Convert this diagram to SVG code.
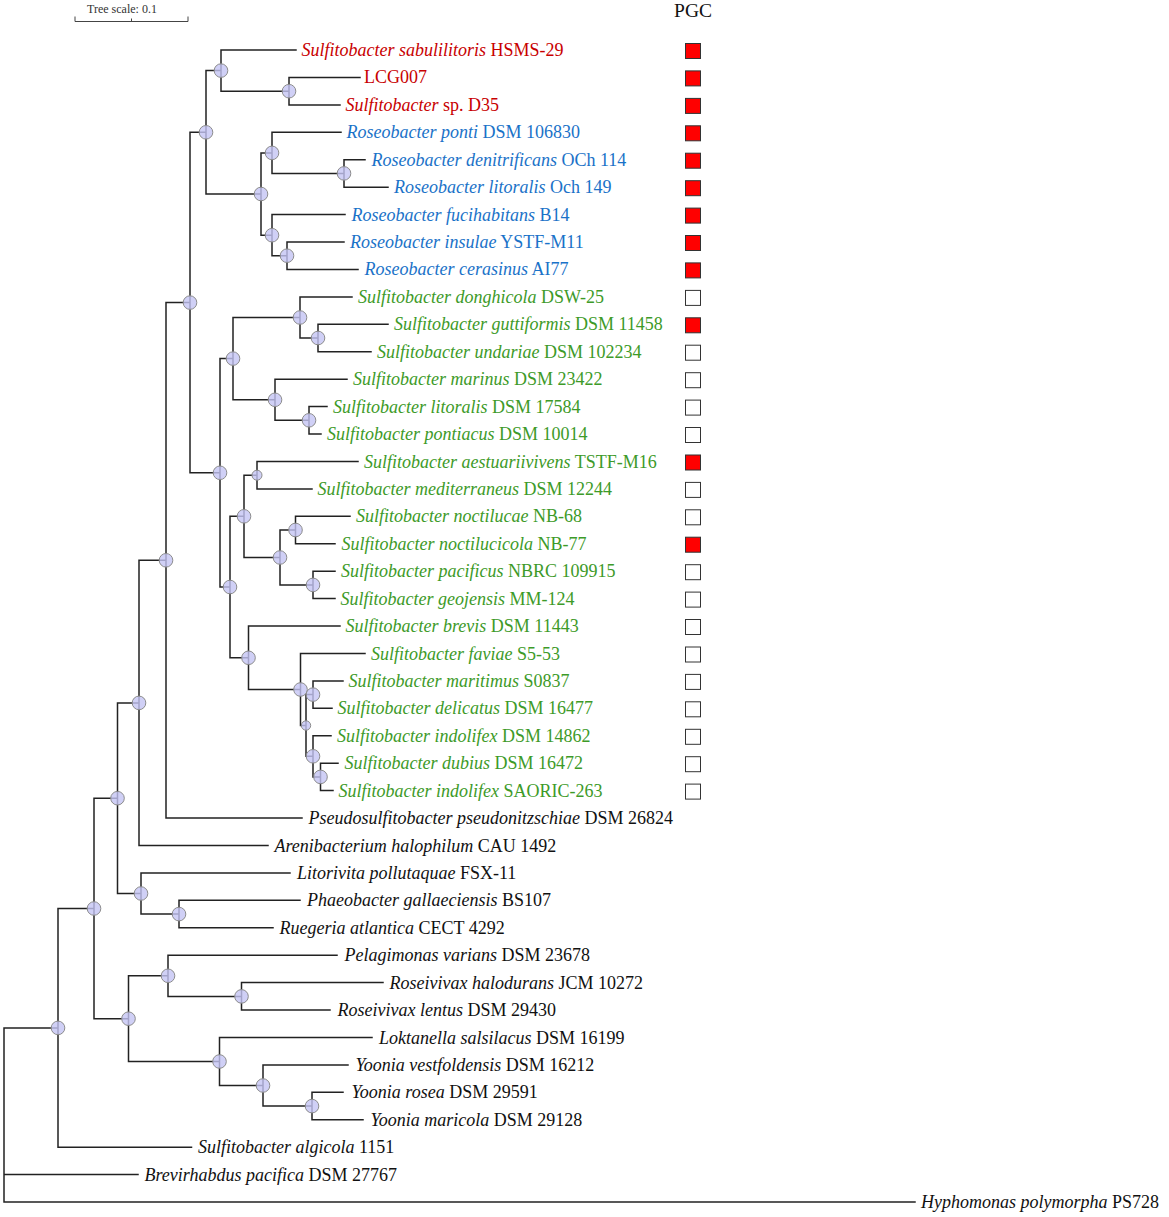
<svg xmlns="http://www.w3.org/2000/svg" width="1169" height="1217" viewBox="0 0 1169 1217">
<style>
.br{stroke:#222;stroke-width:1.5;fill:none;stroke-linecap:square}
.nd{fill:#c4c4f4;fill-opacity:0.8;stroke:#8c8c8c;stroke-width:1}
.t{font-family:"Liberation Serif","Times New Roman",serif;font-size:18px}
.i{font-style:italic}
.red{fill:#c80000}
.blue{fill:#1a72c8}
.green{fill:#3d9a28}
.blk{fill:#111}
.on{fill:#ff0000;stroke:#333;stroke-width:1}
.off{fill:#fff;stroke:#333;stroke-width:1}
.sc{stroke:#444;stroke-width:1;fill:none}
</style>
<rect width="1169" height="1217" fill="#fff"/>
<g id="scale">
<path class="sc" d="M75,16.5V21.5H188V16.5M131.5,18.5V21.5"/>
<text x="122" y="13" text-anchor="middle" font-family="Liberation Serif,serif" font-size="12" fill="#333">Tree scale: 0.1</text>
</g>
<text id="pgc-header" x="693" y="17" text-anchor="middle" font-family="Liberation Serif,serif" font-size="19.5" fill="#111">PGC</text>
<g id="connectors">
<path class="br" d="
M4,1027.9V1202M4,1027.9H58M4,1174.6H138M4,1202H915
M58,908.5V1147.2M58,908.5H94M58,1147.2H191.5
M94,798.2V1018.7M94,798.2H117.5M94,1018.7H128.5
M117.5,702.9V893.5M117.5,702.9H139M117.5,893.5H141
M139,560.3V845.5M139,560.3H166M139,845.5H268
M166,302.6V818M166,302.6H190M166,818H302
M190,132.3V472.8M190,132.3H206M190,472.8H220
M206,70.6V194M206,70.6H221M206,194H261
M221,50V91.2M221,50H296M221,91.2H289
M289,77.4V104.9M289,77.4H360M289,104.9H340
M261,152.9V235.2M261,152.9H272M261,235.2H272
M272,132.3V173.4M272,132.3H341M272,173.4H344
M344,159.7V187.2M344,159.7H365M344,187.2H388
M272,214.6V255.7M272,214.6H345M272,255.7H287
M287,242V269.4M287,242H344M287,269.4H358
M220,358.6V587M220,358.6H233M220,587H230
M233,317.5V399.8M233,317.5H300M233,399.8H275
M300,296.9V338M300,296.9H352M300,338H318
M318,324.3V351.7M318,324.3H388M318,351.7H371
M275,379.2V420.3M275,379.2H347M275,420.3H309
M309,406.6V434M309,406.6H327M309,434H321
M230,516.3V657.8M230,516.3H244M230,657.8H248.5
M244,475.2V557.5M244,475.2H257M244,557.5H280
M257,461.5V488.9M257,461.5H358M257,488.9H312
M280,530V584.9M280,530H295.5M280,584.9H313
M295.5,516.3V543.7M295.5,516.3H350M295.5,543.7H335
M313,571.2V598.6M313,571.2H335M313,598.6H335
M248.5,626V689.5M248.5,626H340M248.5,689.5H300.5
M300.5,653.5V725.5M300.5,653.5H365M300.5,725.5H306
M306,694.6V756.3M306,694.6H313M306,756.3H313
M313,680.9V708.3M313,680.9H343M313,708.3H332
M313,735.8V776.9M313,735.8H331M313,776.9H320.5
M320.5,763.2V790.6M320.5,763.2H338M320.5,790.6H333
M141,872.9V914.1M141,872.9H290M141,914.1H179
M179,900.3V927.8M179,900.3H300M179,927.8H273
M128.5,975.8V1061.5M128.5,975.8H168M128.5,1061.5H219.5
M168,955.2V996.4M168,955.2H337M168,996.4H241.5
M241.5,982.6V1010.1M241.5,982.6H383M241.5,1010.1H330
M219.5,1037.5V1085.5M219.5,1037.5H372M219.5,1085.5H263
M263,1064.9V1106.1M263,1064.9H348M263,1106.1H312
M312,1092.3V1119.8M312,1092.3H343M312,1119.8H363
"/>
</g>
<g id="nodes-internal">
<circle class="nd" cx="58" cy="1027.9" r="6.8"/>
<circle class="nd" cx="94" cy="908.5" r="6.8"/>
<circle class="nd" cx="117.5" cy="798.2" r="6.8"/>
<circle class="nd" cx="139" cy="702.9" r="6.8"/>
<circle class="nd" cx="166" cy="560.3" r="6.8"/>
<circle class="nd" cx="190" cy="302.6" r="6.8"/>
<circle class="nd" cx="206" cy="132.3" r="6.8"/>
<circle class="nd" cx="221" cy="70.6" r="6.8"/>
<circle class="nd" cx="289" cy="91.2" r="6.8"/>
<circle class="nd" cx="261" cy="194" r="6.8"/>
<circle class="nd" cx="272" cy="152.9" r="6.8"/>
<circle class="nd" cx="344" cy="173.4" r="6.8"/>
<circle class="nd" cx="272" cy="235.2" r="6.8"/>
<circle class="nd" cx="287" cy="255.7" r="6.8"/>
<circle class="nd" cx="220" cy="472.8" r="6.8"/>
<circle class="nd" cx="233" cy="358.6" r="6.8"/>
<circle class="nd" cx="300" cy="317.5" r="6.8"/>
<circle class="nd" cx="318" cy="338" r="6.8"/>
<circle class="nd" cx="275" cy="399.8" r="6.8"/>
<circle class="nd" cx="309" cy="420.3" r="6.8"/>
<circle class="nd" cx="230" cy="587" r="6.8"/>
<circle class="nd" cx="244" cy="516.3" r="6.8"/>
<circle class="nd" cx="257" cy="475.2" r="5"/>
<circle class="nd" cx="280" cy="557.5" r="6.8"/>
<circle class="nd" cx="295.5" cy="530" r="6.8"/>
<circle class="nd" cx="313" cy="584.9" r="6.8"/>
<circle class="nd" cx="248.5" cy="657.8" r="6.8"/>
<circle class="nd" cx="300.5" cy="689.5" r="6.8"/>
<circle class="nd" cx="306" cy="725.5" r="4.7"/>
<circle class="nd" cx="313" cy="694.6" r="6.8"/>
<circle class="nd" cx="313" cy="756.3" r="6.8"/>
<circle class="nd" cx="320.5" cy="776.9" r="6.8"/>
<circle class="nd" cx="141" cy="893.5" r="6.8"/>
<circle class="nd" cx="179" cy="914.1" r="6.8"/>
<circle class="nd" cx="128.5" cy="1018.7" r="6.8"/>
<circle class="nd" cx="168" cy="975.8" r="6.8"/>
<circle class="nd" cx="241.5" cy="996.4" r="6.8"/>
<circle class="nd" cx="219.5" cy="1061.5" r="6.8"/>
<circle class="nd" cx="263" cy="1085.5" r="6.8"/>
<circle class="nd" cx="312" cy="1106.1" r="6.8"/>
</g>
<g id="leaves">
<g id="leaf1"><text class="t red" x="301.5" y="56"><tspan class="i">Sulfitobacter sabulilitoris</tspan> HSMS-29</text><rect class="on" x="685.5" y="43.5" width="15" height="15"/></g>
<g id="leaf2"><text class="t red" x="364" y="83.4">LCG007</text><rect class="on" x="685.5" y="70.9" width="15" height="15"/></g>
<g id="leaf3"><text class="t red" x="345.5" y="110.9"><tspan class="i">Sulfitobacter</tspan> sp. D35</text><rect class="on" x="685.5" y="98.4" width="15" height="15"/></g>
<g id="leaf4"><text class="t blue" x="346.5" y="138.3"><tspan class="i">Roseobacter ponti</tspan> DSM 106830</text><rect class="on" x="685.5" y="125.8" width="15" height="15"/></g>
<g id="leaf5"><text class="t blue" x="371.5" y="165.7"><tspan class="i">Roseobacter denitrificans</tspan> OCh 114</text><rect class="on" x="685.5" y="153.2" width="15" height="15"/></g>
<g id="leaf6"><text class="t blue" x="394" y="193.2"><tspan class="i">Roseobacter litoralis</tspan> Och 149</text><rect class="on" x="685.5" y="180.7" width="15" height="15"/></g>
<g id="leaf7"><text class="t blue" x="351.5" y="220.6"><tspan class="i">Roseobacter fucihabitans</tspan> B14</text><rect class="on" x="685.5" y="208.1" width="15" height="15"/></g>
<g id="leaf8"><text class="t blue" x="350" y="248"><tspan class="i">Roseobacter insulae</tspan> YSTF-M11</text><rect class="on" x="685.5" y="235.5" width="15" height="15"/></g>
<g id="leaf9"><text class="t blue" x="364.5" y="275.4"><tspan class="i">Roseobacter cerasinus</tspan> AI77</text><rect class="on" x="685.5" y="262.9" width="15" height="15"/></g>
<g id="leaf10"><text class="t green" x="358" y="302.9"><tspan class="i">Sulfitobacter donghicola</tspan> DSW-25</text><rect class="off" x="685.5" y="290.4" width="15" height="15"/></g>
<g id="leaf11"><text class="t green" x="394" y="330.3"><tspan class="i">Sulfitobacter guttiformis</tspan> DSM 11458</text><rect class="on" x="685.5" y="317.8" width="15" height="15"/></g>
<g id="leaf12"><text class="t green" x="377" y="357.7"><tspan class="i">Sulfitobacter undariae</tspan> DSM 102234</text><rect class="off" x="685.5" y="345.2" width="15" height="15"/></g>
<g id="leaf13"><text class="t green" x="353" y="385.2"><tspan class="i">Sulfitobacter marinus</tspan> DSM 23422</text><rect class="off" x="685.5" y="372.7" width="15" height="15"/></g>
<g id="leaf14"><text class="t green" x="333" y="412.6"><tspan class="i">Sulfitobacter litoralis</tspan> DSM 17584</text><rect class="off" x="685.5" y="400.1" width="15" height="15"/></g>
<g id="leaf15"><text class="t green" x="327" y="440"><tspan class="i">Sulfitobacter pontiacus</tspan> DSM 10014</text><rect class="off" x="685.5" y="427.5" width="15" height="15"/></g>
<g id="leaf16"><text class="t green" x="364" y="467.5"><tspan class="i">Sulfitobacter aestuariivivens</tspan> TSTF-M16</text><rect class="on" x="685.5" y="455" width="15" height="15"/></g>
<g id="leaf17"><text class="t green" x="317.5" y="494.9"><tspan class="i">Sulfitobacter mediterraneus</tspan> DSM 12244</text><rect class="off" x="685.5" y="482.4" width="15" height="15"/></g>
<g id="leaf18"><text class="t green" x="356" y="522.3"><tspan class="i">Sulfitobacter noctilucae</tspan> NB-68</text><rect class="off" x="685.5" y="509.8" width="15" height="15"/></g>
<g id="leaf19"><text class="t green" x="341.5" y="549.7"><tspan class="i">Sulfitobacter noctilucicola</tspan> NB-77</text><rect class="on" x="685.5" y="537.2" width="15" height="15"/></g>
<g id="leaf20"><text class="t green" x="341" y="577.2"><tspan class="i">Sulfitobacter pacificus</tspan> NBRC 109915</text><rect class="off" x="685.5" y="564.7" width="15" height="15"/></g>
<g id="leaf21"><text class="t green" x="340.5" y="604.6"><tspan class="i">Sulfitobacter geojensis</tspan> MM-124</text><rect class="off" x="685.5" y="592.1" width="15" height="15"/></g>
<g id="leaf22"><text class="t green" x="345.5" y="632"><tspan class="i">Sulfitobacter brevis</tspan> DSM 11443</text><rect class="off" x="685.5" y="619.5" width="15" height="15"/></g>
<g id="leaf23"><text class="t green" x="371" y="659.5"><tspan class="i">Sulfitobacter faviae</tspan> S5-53</text><rect class="off" x="685.5" y="647" width="15" height="15"/></g>
<g id="leaf24"><text class="t green" x="348.5" y="686.9"><tspan class="i">Sulfitobacter maritimus</tspan> S0837</text><rect class="off" x="685.5" y="674.4" width="15" height="15"/></g>
<g id="leaf25"><text class="t green" x="337.5" y="714.3"><tspan class="i">Sulfitobacter delicatus</tspan> DSM 16477</text><rect class="off" x="685.5" y="701.8" width="15" height="15"/></g>
<g id="leaf26"><text class="t green" x="337" y="741.8"><tspan class="i">Sulfitobacter indolifex</tspan> DSM 14862</text><rect class="off" x="685.5" y="729.3" width="15" height="15"/></g>
<g id="leaf27"><text class="t green" x="344.5" y="769.2"><tspan class="i">Sulfitobacter dubius</tspan> DSM 16472</text><rect class="off" x="685.5" y="756.7" width="15" height="15"/></g>
<g id="leaf28"><text class="t green" x="338.5" y="796.6"><tspan class="i">Sulfitobacter indolifex</tspan> SAORIC-263</text><rect class="off" x="685.5" y="784.1" width="15" height="15"/></g>
<g id="leaf29"><text class="t blk" x="308.5" y="824"><tspan class="i">Pseudosulfitobacter pseudonitzschiae</tspan> DSM 26824</text></g>
<g id="leaf30"><text class="t blk" x="274.5" y="851.5"><tspan class="i">Arenibacterium halophilum</tspan> CAU 1492</text></g>
<g id="leaf31"><text class="t blk" x="297" y="878.9"><tspan class="i">Litorivita pollutaquae</tspan> FSX-11</text></g>
<g id="leaf32"><text class="t blk" x="307" y="906.3"><tspan class="i">Phaeobacter gallaeciensis</tspan> BS107</text></g>
<g id="leaf33"><text class="t blk" x="279.5" y="933.8"><tspan class="i">Ruegeria atlantica</tspan> CECT 4292</text></g>
<g id="leaf34"><text class="t blk" x="344.5" y="961.2"><tspan class="i">Pelagimonas varians</tspan> DSM 23678</text></g>
<g id="leaf35"><text class="t blk" x="389.5" y="988.6"><tspan class="i">Roseivivax halodurans</tspan> JCM 10272</text></g>
<g id="leaf36"><text class="t blk" x="337.5" y="1016.1"><tspan class="i">Roseivivax lentus</tspan> DSM 29430</text></g>
<g id="leaf37"><text class="t blk" x="379" y="1043.5"><tspan class="i">Loktanella salsilacus</tspan> DSM 16199</text></g>
<g id="leaf38"><text class="t blk" x="355.5" y="1070.9"><tspan class="i">Yoonia vestfoldensis</tspan> DSM 16212</text></g>
<g id="leaf39"><text class="t blk" x="351.5" y="1098.3"><tspan class="i">Yoonia rosea</tspan> DSM 29591</text></g>
<g id="leaf40"><text class="t blk" x="370.5" y="1125.8"><tspan class="i">Yoonia maricola</tspan> DSM 29128</text></g>
<g id="leaf41"><text class="t blk" x="198" y="1153.2"><tspan class="i">Sulfitobacter algicola</tspan> 1151</text></g>
<g id="leaf42"><text class="t blk" x="144.5" y="1180.6"><tspan class="i">Brevirhabdus pacifica</tspan> DSM 27767</text></g>
<g id="leaf43"><text class="t blk" x="921" y="1208"><tspan class="i">Hyphomonas polymorpha</tspan> PS728</text></g>
</g>
</svg>
